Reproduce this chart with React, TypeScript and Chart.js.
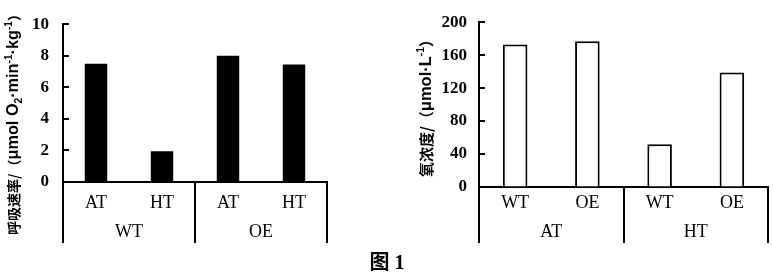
import React, { useEffect, useRef } from 'react';
import Chart from 'chart.js/auto';

// ---- Data ----
const leftCategories = ['AT', 'HT', 'AT', 'HT'];
const leftGroups = ['WT', 'OE'];
const leftValues = [7.5, 1.95, 8.0, 7.45];
const leftTicks = [0, 2, 4, 6, 8, 10];
// title pieces: [text, kind] kind: c = CJK, n = normal latin, sub, sup
const leftTitle: [string, string][] = [
  ['呼吸速率/（', 'c'],
  ['μmol O', 'n'],
  ['2', 'sub'],
  ['·min', 'n'],
  ['-1', 'sup'],
  ['·kg', 'n'],
  ['-1', 'sup'],
  ['）', 'c'],
];

const rightCategories = ['WT', 'OE', 'WT', 'OE'];
const rightGroups = ['AT', 'HT'];
const rightValues = [173, 177, 52, 139];
const rightTicks = [0, 40, 80, 120, 160, 200];
const rightTitle: [string, string][] = [
  ['氧浓度/（', 'c'],
  ['μmol·L', 'n'],
  ['-1', 'sup'],
  ['）', 'c'],
];

const caption = '图 1';

const SERIF = '"Liberation Serif", "Times New Roman", "Noto Sans CJK SC", serif';
const SANS = '"Liberation Sans", Arial, sans-serif';
const CJK = '"Noto Sans CJK SC", sans-serif';
const H = 277;

type Spec = {
  categories: string[];
  groups: string[];
  values: number[];
  ticks: number[];
  title: [string, string][];
  canvasLeft: number;
  width: number;
  axisX: number;
  rightPad: number;
  top: number;
  bottom: number;
  fill: string;
  borderW: number;
  barPct: number;
  xPad: number;
  sepBottom: number;
  groupY: number;
  titleX: number;
  titleStart: number; // y (bottom end) where title starts
  cjkSize: number;
  titleLen: number;
  yPad: number;
};

function drawTitle(ctx: CanvasRenderingContext2D, spec: Spec) {
  const base = 16;
  const fontFor = (kind: string, k: number) => {
    if (kind === 'c') return `bold ${spec.cjkSize}px ${CJK}`;
    if (kind === 'n') return `600 ${base * k}px ${SANS}`;
    return `600 ${base * 0.62 * k}px ${SANS}`;
  };
  let latinW = 0;
  let cjkW = 0;
  spec.title.forEach(([t, kind]) => {
    ctx.font = fontFor(kind, 1);
    const w = ctx.measureText(t).width;
    if (kind === 'c') cjkW += w;
    else latinW += w;
  });
  const k = Math.max(0.6, (spec.titleLen - cjkW) / latinW);
  ctx.save();
  ctx.fillStyle = '#000';
  ctx.translate(spec.titleX, spec.titleStart);
  ctx.rotate(-Math.PI / 2);
  ctx.textAlign = 'left';
  ctx.textBaseline = 'middle';
  let x = 0;
  spec.title.forEach(([t, kind]) => {
    ctx.font = fontFor(kind, kind === 'c' ? 1 : k);
    let dy = 0;
    if (kind === 'sub') dy = base * k * 0.3;
    if (kind === 'sup') dy = -base * k * 0.28;
    ctx.fillText(t, x, dy + 1);
    x += ctx.measureText(t).width;
  });
  ctx.restore();
}

function makePlugin(spec: Spec) {
  return {
    id: 'decor',
    afterDraw(chart: any) {
      const { ctx, chartArea } = chart;
      const xs = chart.scales.x;
      const ys = chart.scales.y;
      ctx.save();
      ctx.strokeStyle = '#000';
      ctx.fillStyle = '#000';
      ctx.lineWidth = 2;
      // inward tick marks
      spec.ticks.forEach((v) => {
        const py = Math.round(ys.getPixelForValue(v));
        ctx.beginPath();
        ctx.moveTo(chartArea.left, py);
        ctx.lineTo(chartArea.left + 6, py);
        ctx.stroke();
      });
      // group separators below baseline
      const per = spec.categories.length / spec.groups.length;
      const seps: number[] = [chartArea.left];
      for (let g = 1; g < spec.groups.length; g++) seps.push(xs.getPixelForValue(g * per - 0.5));
      seps.push(chartArea.right);
      seps.forEach((sx) => {
        const px = Math.round(sx);
        ctx.beginPath();
        ctx.moveTo(px, chartArea.bottom - 1);
        ctx.lineTo(px, spec.sepBottom);
        ctx.stroke();
      });
      // group labels
      ctx.font = `18px ${SERIF}`;
      ctx.textAlign = 'center';
      ctx.textBaseline = 'middle';
      spec.groups.forEach((g, i) => {
        const cx = (xs.getPixelForValue(i * per) + xs.getPixelForValue(i * per + per - 1)) / 2;
        ctx.fillText(g, cx, spec.groupY);
      });
      ctx.restore();
      drawTitle(ctx, spec);
    },
  };
}

function BarChart({ spec }: { spec: Spec }) {
  const ref = useRef<HTMLCanvasElement | null>(null);
  useEffect(() => {
    if (!ref.current) return;
    const yMax = spec.ticks[spec.ticks.length - 1];
    const step = spec.ticks[1] - spec.ticks[0];
    const chart = new Chart(ref.current, {
      type: 'bar',
      data: {
        labels: spec.categories,
        datasets: [
          {
            data: spec.values,
            backgroundColor: spec.fill,
            borderColor: '#000',
            borderWidth: spec.borderW,
            barPercentage: spec.barPct,
            categoryPercentage: 1,
          },
        ],
      },
      options: {
        responsive: false,
        animation: false,
        devicePixelRatio: 1,
        layout: { padding: { left: 0, right: spec.rightPad, top: spec.top, bottom: 0 } },
        plugins: { legend: { display: false }, tooltip: { enabled: false } },
        scales: {
          x: {
            type: 'category',
            offset: true,
            grid: { display: true, drawOnChartArea: false, drawTicks: false },
            border: { display: true, color: '#000', width: 2 },
            ticks: {
              color: '#000',
              padding: spec.xPad,
              maxRotation: 0,
              autoSkip: false,
              font: { family: SERIF, size: 18 },
            },
            afterFit: (s: any) => {
              s.height = H - spec.bottom;
            },
          },
          y: {
            min: 0,
            max: yMax,
            grid: { display: true, drawOnChartArea: false, drawTicks: false },
            border: { display: true, color: '#000', width: 2 },
            ticks: {
              stepSize: step,
              color: '#000',
              padding: spec.yPad,
              font: { family: SERIF, size: 17, weight: 'bold' },
            },
            afterFit: (s: any) => {
              s.width = spec.axisX;
            },
          },
        },
      },
      plugins: [makePlugin(spec)],
    } as any);
    return () => chart.destroy();
  }, [spec]);
  return (
    <canvas
      ref={ref}
      width={spec.width}
      height={H}
      style={{ position: 'absolute', left: spec.canvasLeft, top: 0, width: spec.width, height: H }}
    />
  );
}

const leftSpec: Spec = {
  categories: leftCategories,
  groups: leftGroups,
  values: leftValues,
  ticks: leftTicks,
  title: leftTitle,
  canvasLeft: 0,
  width: 340,
  axisX: 63,
  rightPad: 13,
  top: 23,
  bottom: 182,
  fill: '#000',
  borderW: 0,
  barPct: 0.34,
  xPad: 10,
  sepBottom: 243,
  groupY: 232,
  titleX: 13,
  titleStart: 235,
  cjkSize: 14,
  titleLen: 228,
  yPad: 14,
};

const rightSpec: Spec = {
  categories: rightCategories,
  groups: rightGroups,
  values: rightValues,
  ticks: rightTicks,
  title: rightTitle,
  canvasLeft: 400,
  width: 373,
  axisX: 79,
  rightPad: 5,
  top: 16,
  bottom: 187,
  fill: '#fff',
  borderW: 2,
  barPct: 0.34,
  xPad: 5,
  sepBottom: 243,
  groupY: 232,
  titleX: 25,
  titleStart: 177,
  cjkSize: 15,
  titleLen: 145,
  yPad: 12,
};

export default function App() {
  return (
    <div
      style={{
        position: 'fixed',
        left: 0,
        top: 0,
        width: 773,
        height: H,
        background: '#fff',
        overflow: 'hidden',
      }}
    >
      <BarChart spec={leftSpec} />
      <BarChart spec={rightSpec} />
      <div
        style={{
          position: 'absolute',
          left: 337,
          top: 250,
          width: 100,
          height: 24,
          lineHeight: '24px',
          textAlign: 'center',
          fontFamily: SERIF,
          fontWeight: 'bold',
          fontSize: 20,
          color: '#000',
        }}
      >
        {caption}
      </div>
    </div>
  );
}
